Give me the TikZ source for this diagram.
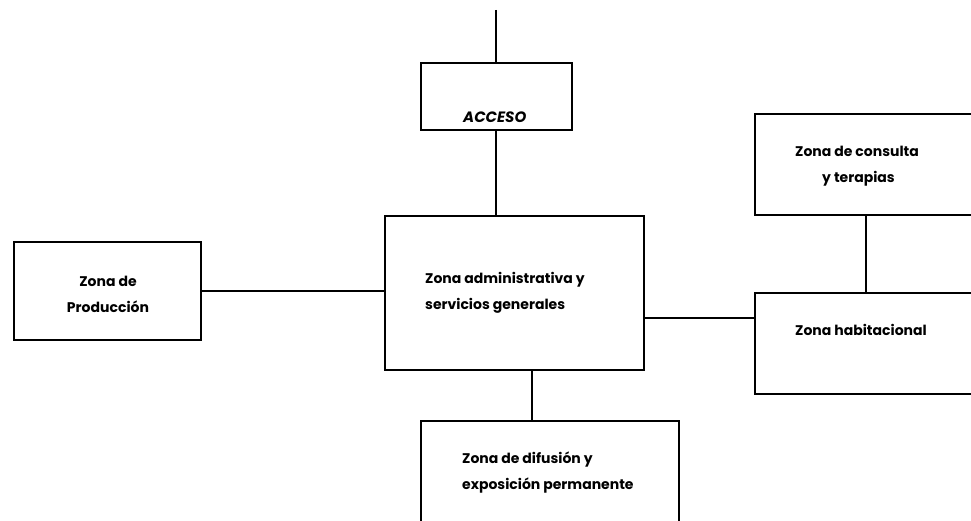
\documentclass[tikz,border=0pt]{standalone}
\usepackage{fontspec}
\setmainfont{Poppins}
\begin{document}
\begin{tikzpicture}[x=1pt,y=-1pt,
  zbox/.style={draw, line width=1.6pt, rectangle, minimum width=#1, inner sep=0pt},
  lbl/.style={font=\fontsize{14}{26}\selectfont\bfseries, align=left, anchor=west, inner sep=0pt},
  link/.style={line width=1.6pt}]
\useasboundingbox (0,0) rectangle (971,521);
\clip (0,0) rectangle (971,521);
% boxes (top-left corner, width, height)
\node[zbox=151pt, minimum height=67pt, anchor=north west] (acc) at (420,62) {};
\node[zbox=259pt, minimum height=154pt, anchor=north west] (adm) at (384,215) {};
\node[zbox=187pt, minimum height=98pt, anchor=north west] (prod) at (13,241) {};
\node[zbox=240pt, minimum height=101pt, anchor=north west] (cons) at (754,113) {};
\node[zbox=240pt, minimum height=101pt, anchor=north west] (hab) at (754,292) {};
\node[zbox=258pt, minimum height=130pt, anchor=north west] (dif) at (420,420) {};
\coordinate (top) at (496,10);
% texts
\node[lbl, font=\fontsize{15}{18}\selectfont\bfseries\itshape] (tacc) at (463,117) {ACCESO};
\node[lbl] (tadm) at (425,293) {Zona administrativa y\\servicios generales};
\node[lbl, align=center, anchor=center] (tprod) at (108,294) {Zona de\\Producción};
\node[lbl] (tcons) at (795,166) {Zona de consulta\\\hspace*{27pt}y terapias};
\node[lbl] (thab) at (795,330) {Zona habitacional};
\node[lbl] (tdif) at (462,473) {Zona de difusión y\\exposición permanente};
% connectors
\draw[link] (top) -- (acc.north -| top);
\draw[link] (acc.south -| top) -- (adm.north -| top);
\draw[link] (prod.east) -- (prod.east -| adm.west);
\draw[link] ([yshift=-25pt]adm.east) -- ([yshift=-25pt]adm.east -| hab.west);
\draw[link] (cons.south -| 866,0) -- (hab.north -| 866,0);
\draw[link] (adm.south -| 532,0) -- (dif.north -| 532,0);
\end{tikzpicture}
\end{document}
